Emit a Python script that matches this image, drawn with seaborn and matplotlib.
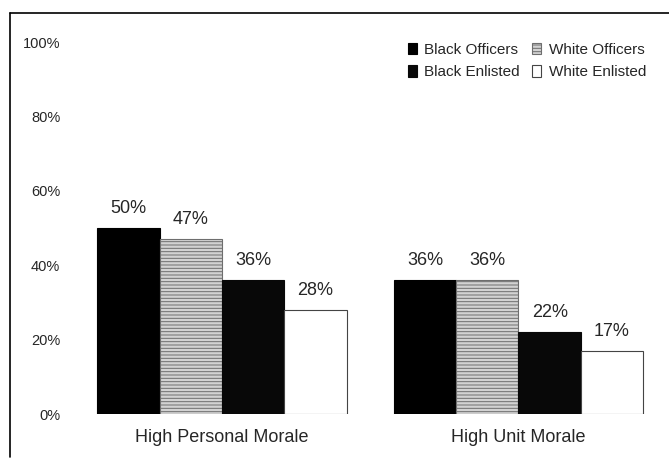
import pandas as pd
import seaborn as sns
import matplotlib.pyplot as plt
from matplotlib.patches import Patch
from matplotlib.lines import Line2D

# data
categories = ['High Personal Morale', 'High Unit Morale']
groups = ['Black Officers', 'White Officers', 'Black Enlisted', 'White Enlisted']
black_officers = [50, 36]
white_officers = [47, 36]
black_enlisted = [36, 22]
white_enlisted = [28, 17]

sns.set_style("white")
plt.rcParams['font.family'] = ['Liberation Sans', 'DejaVu Sans']
plt.rcParams['hatch.color'] = '#6e6e6e'
plt.rcParams['hatch.linewidth'] = 0.7

values = [black_officers, white_officers, black_enlisted, white_enlisted]
rows = []
for g, vals in zip(groups, values):
    for c, v in zip(categories, vals):
        rows.append({'morale': c, 'group': g, 'pct': v})
df = pd.DataFrame(rows)

face = {'Black Officers': '#000000', 'White Officers': '#d2d2d2',
        'Black Enlisted': '#080808', 'White Enlisted': '#ffffff'}
hatch = {'Black Officers': None, 'White Officers': '-----',
         'Black Enlisted': None, 'White Enlisted': None}
edge = {'Black Officers': '#000000', 'White Officers': '#6e6e6e',
        'Black Enlisted': '#080808', 'White Enlisted': '#444444'}

fig = plt.figure(figsize=(6.69, 4.67), dpi=100)
ax = fig.add_axes([70 / 669, 53 / 467, 599 / 669, 372 / 467])

sns.barplot(data=df, x='morale', y='pct', hue='group', hue_order=groups,
            palette=face, saturation=1, width=0.84, legend=False, ax=ax)

for cont, g in zip(ax.containers, groups):
    for bar in cont:
        bar.set_edgecolor(edge[g])
        bar.set_linewidth(0.8)
        if hatch[g]:
            bar.set_hatch(hatch[g])
    ax.bar_label(cont, labels=[f'{int(v)}%' for v in cont.datavalues],
                 padding=8, fontsize=13)

ax.set_ylim(0, 100)
ax.set_xlim(-0.5126, 1.5076)
ax.set_yticks([0, 20, 40, 60, 80, 100])
ax.set_yticklabels(['0%', '20%', '40%', '60%', '80%', '100%'], fontsize=10.5)
ax.tick_params(axis='y', length=0, pad=7)
ax.tick_params(axis='x', length=0, pad=11, labelsize=13)
ax.set_xlabel('')
ax.set_ylabel('')
sns.despine(ax=ax, left=True, bottom=True)

handles = [Patch(facecolor=face[g], edgecolor=edge[g], hatch=hatch[g],
                 linewidth=0.8, label=g)
           for g in ['Black Officers', 'Black Enlisted', 'White Officers', 'White Enlisted']]
fig.legend(handles=handles, ncol=2, frameon=False, fontsize=11,
           loc='upper left', bbox_to_anchor=(400 / 669, 1 - 35 / 467),
           handlelength=0.6, handleheight=0.8, handletextpad=0.5,
           columnspacing=0.8, labelspacing=0.55, borderpad=0)

# outer frame of the scanned figure
fig.add_artist(Line2D([10 / 669, 10 / 669], [10 / 467, 1 - 13 / 467],
                      color='black', linewidth=1.2))
fig.add_artist(Line2D([10 / 669, 1], [1 - 13 / 467, 1 - 13 / 467],
                      color='black', linewidth=1.2))

plt.savefig('out.png', dpi=100)
